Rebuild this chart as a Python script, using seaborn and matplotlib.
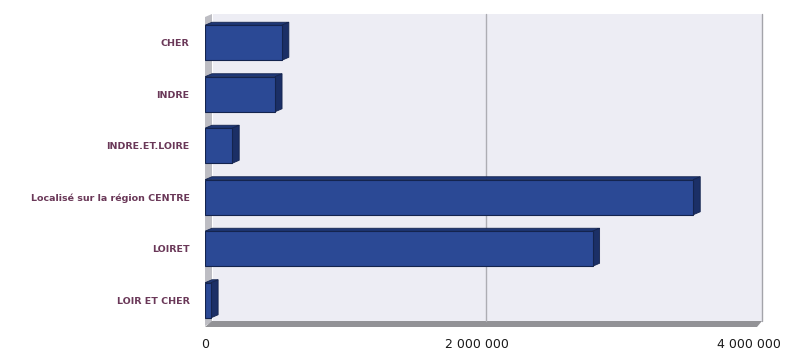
import matplotlib
matplotlib.use("Agg")
import matplotlib.pyplot as plt
from matplotlib.patches import Polygon, Rectangle
import seaborn as sns
import pandas as pd

# Data
departements = ["CHER", "INDRE", "INDRE.ET.LOIRE", "Localisé sur la région CENTRE",
                "LOIRET", "LOIR ET CHER"]
montants = [565000, 515000, 200000, 3590000, 2850000, 45000]
x_ticks = [0, 2000000, 4000000]
x_tick_labels = ["0", "2 000 000", "4 000 000"]

df = pd.DataFrame({"departement": departements, "montant": montants})

sns.set_theme(style="white")
plt.rcParams["font.family"] = ["DejaVu Sans"]

W, H = 790, 353
fig = plt.figure(figsize=(W / 100, H / 100), dpi=100)
fig.patch.set_facecolor("white")

# front plane of the chart, in pixels
L, R, T, B = 205, 765, 17, 326
ax = fig.add_axes([L / W, (H - B) / H, (R - L) / W, (B - T) / H])
ax.set_facecolor("none")

xmax = 4000000 * (R - L) / 544
sns.barplot(data=df, x="montant", y="departement", orient="h", color="#2b4995",
            width=0.68, edgecolor="#14244e", linewidth=0.8, saturation=1, ax=ax, zorder=3)
ax.set_xlim(0, xmax)
ax.set_ylim(5.5, -0.5)

def px_to_ax(x, y):
    """pixel position in the figure -> axes fraction"""
    return ((x - L) / (R - L), (B - y) / (B - T))

# back wall
bw = [px_to_ax(213, 322), px_to_ax(762, 322), px_to_ax(762, 14), px_to_ax(213, 14)]
ax.add_patch(Polygon(bw, closed=True, transform=ax.transAxes, facecolor="#ededf4",
                     edgecolor="none", clip_on=False, zorder=0))
# left wall
lw = [px_to_ax(205, 326), px_to_ax(212, 322), px_to_ax(212, 14), px_to_ax(205, 17)]
ax.add_patch(Polygon(lw, closed=True, transform=ax.transAxes, facecolor="#bdbdc3",
                     edgecolor="none", clip_on=False, zorder=1))
# floor
fl = [px_to_ax(205, 327), px_to_ax(212, 321), px_to_ax(762, 321), px_to_ax(757, 327)]
ax.add_patch(Polygon(fl, closed=True, transform=ax.transAxes, facecolor="#929296",
                     edgecolor="none", clip_on=False, zorder=1))
# vertical grid line on the back wall at 2 000 000 and right wall edge
for gx in (2000000,):
    fx = ax.transData.transform((gx, 0))[0]
    xp = fx + 9
    xa = (xp - L) / (R - L)
    ax.plot([xa, xa], [px_to_ax(0, 321)[1], px_to_ax(0, 14)[1]], transform=ax.transAxes,
            color="#adadb3", lw=1.0, clip_on=False, zorder=1)
ax.plot([px_to_ax(762, 0)[0]] * 2, [px_to_ax(0, 321)[1], px_to_ax(0, 14)[1]],
        transform=ax.transAxes, color="#a4a4aa", lw=1.0, clip_on=False, zorder=1)

# depth faces of the bars
dx = 7 * xmax / (R - L)
dy = 3 * 6 / (B - T)
for p in ax.patches:
    if not isinstance(p, Rectangle) or p.get_width() <= 0 or p.get_height() >= 1:
        continue
    x0, y0 = p.get_x(), p.get_y()
    x1, y1 = x0 + p.get_width(), y0 + p.get_height()
    top = [(x0, y0), (x1, y0), (x1 + dx, y0 - dy), (x0 + dx, y0 - dy)]
    side = [(x1, y0), (x1, y1), (x1 + dx, y1 - dy), (x1 + dx, y0 - dy)]
    ax.add_patch(Polygon(top, closed=True, facecolor="#1f3877", edgecolor="#14244e",
                         lw=0.6, zorder=2.9))
    ax.add_patch(Polygon(side, closed=True, facecolor="#1b2f66", edgecolor="#14244e",
                         lw=0.6, zorder=2.9))

ax.set_xticks(x_ticks)
ax.set_xticklabels(x_tick_labels)
ax.set_xlabel("")
ax.set_ylabel("")
ax.tick_params(axis="x", length=0, pad=9, labelsize=9, labelcolor="#1a1a1a")
ax.tick_params(axis="y", length=0, pad=11, labelsize=6.8, labelcolor="#6a3858")
for t in ax.get_yticklabels():
    t.set_fontweight("bold")
sns.despine(ax=ax, left=True, bottom=True)
ax.grid(False)

fig.savefig("out.png", dpi=100, facecolor="white")
